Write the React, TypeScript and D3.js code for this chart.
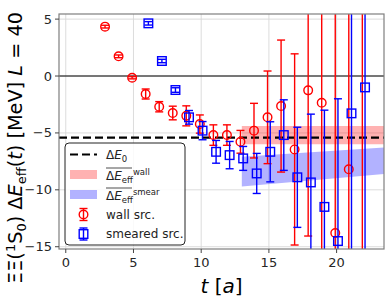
import React from "react";
import * as d3 from "d3";

// wall source points
const wallT = [3, 4, 5, 6, 7, 8, 9, 10, 11, 12, 13, 14, 15, 16, 17, 18, 19, 20, 21, 22];
const wallVal = [4.34, 1.73, -0.15, -1.58, -2.7, -3.25, -3.5, -4.22, -5.19, -5.19, -5.78, -4.8, -3.63, -2.64, -6.45, -1.26, -2.35, -13.8, -8.2, 8];
const wallErr = [0.12, 0.12, 0.1, 0.44, 0.45, 0.6, 0.88, 0.8, 0.9, 0.9, 1.0, 2.4, 4.07, 5.8, 8.4, 12.8, 25, 25, 25, 30];

// smeared source points
const smearT = [6, 7, 8, 9, 10, 11, 12, 13, 14, 15, 16, 17, 18, 19, 20, 21, 22];
const smearVal = [4.63, 1.32, -1.23, -3.63, -4.8, -6.66, -6.95, -7.24, -8.56, -6.66, -5.19, -8.9, -9.35, -11.5, -14.5, -3.28, -1.0];
const smearErr = [0.15, 0.15, 0.2, 0.6, 0.8, 1.0, 1.2, 1.05, 1.76, 2.64, 3.1, 4.4, 6.0, 8.5, 12.5, 25, 25];

// bands + ground state
const bandT = [13, 24];
const wallLo = [-6.0, -6.0];
const wallHi = [-4.4, -4.4];
const smearLo = [-9.7, -8.55];
const smearHi = [-7.1, -6.25];
const dE0 = -5.42;

const xTicks = [0, 5, 10, 15, 20];
const yTicks = [5, 0, -5, -10, -15];

const W = 391, H = 299;
const L = 59, R = 384, T = 14, B = 249;
const FONT = "DejaVu Sans";
const RED = "#ff0000";
const BLUE = "#0000ff";

const x = d3.scaleLinear().domain([-0.5, 23.5]).range([L, R]);
const y = d3.scaleLinear().domain([5.45, -15.2]).range([T, B]);

const fmt = (v: number) => (v < 0 ? "\u2212" + Math.abs(v) : String(v));

function ErrPoint({ cx, v, e, color, shape }: { cx: number; v: number; e: number; color: string; shape: "o" | "s" }) {
  const cy = y(v);
  const y1 = y(v + e), y2 = y(v - e);
  return (
    <g stroke={color} strokeWidth={1.4} fill="none">
      <line x1={cx} x2={cx} y1={y1} y2={y2} />
      <line x1={cx - 4} x2={cx + 4} y1={y1} y2={y1} />
      <line x1={cx - 4} x2={cx + 4} y1={y2} y2={y2} />
      {shape === "o" ? (
        <circle cx={cx} cy={cy} r={4.3} />
      ) : (
        <rect x={cx - 4.3} y={cy - 4.3} width={8.6} height={8.6} />
      )}
    </g>
  );
}

export default function App() {
  const wallArea = d3.area<number>()
    .x((_, i) => x(bandT[i]))
    .y0((_, i) => y(wallLo[i]))
    .y1((_, i) => y(wallHi[i]));
  const smearArea = d3.area<number>()
    .x((_, i) => x(bandT[i]))
    .y0((_, i) => y(smearLo[i]))
    .y1((_, i) => y(smearHi[i]));

  const legY = [154.5, 174.5, 194.5, 214.5, 234];
  const hx0 = 70, hx1 = 97, tx = 106;

  return (
    <svg width={W} height={H} style={{ position: "absolute", left: 0, top: 0 }} fontFamily={FONT}>
      <defs>
        <clipPath id="plot">
          <rect x={L} y={T} width={R - L} height={B - T} />
        </clipPath>
      </defs>
      <rect x={0} y={0} width={W} height={H} fill="#fff" />

      {/* grid */}
      <g stroke="#d8d8d8" strokeWidth={0.9}>
        {xTicks.map((t) => <line key={"gx" + t} x1={x(t)} x2={x(t)} y1={T} y2={B} />)}
        {yTicks.map((t) => <line key={"gy" + t} x1={L} x2={R} y1={y(t)} y2={y(t)} />)}
      </g>

      <g clipPath="url(#plot)">
        <path d={wallArea(bandT) ?? ""} fill={RED} fillOpacity={0.3} />
        <path d={smearArea(bandT) ?? ""} fill={BLUE} fillOpacity={0.3} />
        <line x1={L} x2={R} y1={y(0)} y2={y(0)} stroke="#000" strokeWidth={1.2} />
        <line x1={L} x2={R} y1={y(dE0)} y2={y(dE0)} stroke="#000" strokeWidth={2.2} strokeDasharray="8,4" />
        {wallT.map((t, i) => (
          <ErrPoint key={"w" + t} cx={x(t - 0.1)} v={wallVal[i]} e={wallErr[i]} color={RED} shape="o" />
        ))}
        {smearT.map((t, i) => (
          <ErrPoint key={"s" + t} cx={x(t + 0.1)} v={smearVal[i]} e={smearErr[i]} color={BLUE} shape="s" />
        ))}
      </g>

      {/* frame */}
      <rect x={L} y={T} width={R - L} height={B - T} fill="none" stroke="#7f7f7f" strokeWidth={1.2} />

      {/* ticks */}
      <g stroke="#444" strokeWidth={1}>
        {xTicks.map((t) => <line key={"tx" + t} x1={x(t)} x2={x(t)} y1={B} y2={B + 4} />)}
        {yTicks.map((t) => <line key={"ty" + t} x1={L - 4} x2={L} y1={y(t)} y2={y(t)} />)}
      </g>
      <g fontSize={13} fill="#262626">
        {xTicks.map((t) => (
          <text key={"lx" + t} x={x(t)} y={B + 18} textAnchor="middle">{fmt(t)}</text>
        ))}
        {yTicks.map((t) => (
          <text key={"ly" + t} x={L - 7} y={y(t)} dy="0.35em" textAnchor="end">{fmt(t)}</text>
        ))}
      </g>

      {/* axis labels */}
      <text x={(L + R) / 2} y={293} textAnchor="middle" fontSize={20} fill="#000">
        <tspan fontStyle="italic">t</tspan> [<tspan fontStyle="italic">a</tspan>]
      </text>
      <text transform="translate(22,148) rotate(-90)" textAnchor="middle" fontSize={19.3} fill="#000">
        ΞΞ(<tspan fontSize={13} dy={-7}>1</tspan><tspan dy={7}>S</tspan><tspan fontSize={13} dy={4}>0</tspan><tspan dy={-4}>) Δ</tspan><tspan fontStyle="italic">E</tspan><tspan fontSize={13} dy={4}>eff</tspan><tspan dy={-4}>(</tspan><tspan fontStyle="italic">t</tspan>) [MeV] <tspan fontStyle="italic">L</tspan> = 40
      </text>

      {/* legend */}
      <rect x={65} y={143} width={120} height={102} rx={4} fill="#fff" fillOpacity={0.85} stroke="#222" strokeWidth={1} />
      <line x1={hx0} x2={hx1} y1={legY[0]} y2={legY[0]} stroke="#000" strokeWidth={2.2} strokeDasharray="8,4" />
      <rect x={hx0} y={legY[1] - 4.5} width={hx1 - hx0} height={9} fill={RED} fillOpacity={0.3} />
      <rect x={hx0} y={legY[2] - 4.5} width={hx1 - hx0} height={9} fill={BLUE} fillOpacity={0.3} />
      <g stroke={RED} strokeWidth={1.4} fill="none">
        <line x1={83.5} x2={83.5} y1={legY[3] - 6} y2={legY[3] + 6} />
        <line x1={79.5} x2={87.5} y1={legY[3] - 6} y2={legY[3] - 6} />
        <line x1={79.5} x2={87.5} y1={legY[3] + 6} y2={legY[3] + 6} />
        <circle cx={83.5} cy={legY[3]} r={4.3} />
      </g>
      <g stroke={BLUE} strokeWidth={1.4} fill="none">
        <line x1={83.5} x2={83.5} y1={legY[4] - 6} y2={legY[4] + 6} />
        <line x1={79.5} x2={87.5} y1={legY[4] - 6} y2={legY[4] - 6} />
        <line x1={79.5} x2={87.5} y1={legY[4] + 6} y2={legY[4] + 6} />
        <rect x={79.2} y={legY[4] - 4.3} width={8.6} height={8.6} />
      </g>
      <g fontSize={12} fill="#222">
        <text x={tx} y={legY[0]} dy="0.35em">Δ<tspan fontStyle="italic">E</tspan><tspan fontSize={8.5} dy={3}>0</tspan></text>
        <text x={tx} y={legY[1]} dy="0.45em">Δ<tspan fontStyle="italic">E</tspan><tspan fontSize={8.5} dy={3}>eff</tspan><tspan fontSize={8.5} dy={-8}>wall</tspan></text>
        <line x1={tx} x2={tx + 26} y1={legY[1] - 6.5} y2={legY[1] - 6.5} stroke="#222" strokeWidth={0.8} />
        <text x={tx} y={legY[2]} dy="0.45em">Δ<tspan fontStyle="italic">E</tspan><tspan fontSize={8.5} dy={3}>eff</tspan><tspan fontSize={8.5} dy={-8}>smear</tspan></text>
        <line x1={tx} x2={tx + 26} y1={legY[2] - 6.5} y2={legY[2] - 6.5} stroke="#222" strokeWidth={0.8} />
        <text x={tx} y={legY[3]} dy="0.35em">wall src.</text>
        <text x={tx} y={legY[4]} dy="0.35em">smeared src.</text>
      </g>
    </svg>
  );
}
